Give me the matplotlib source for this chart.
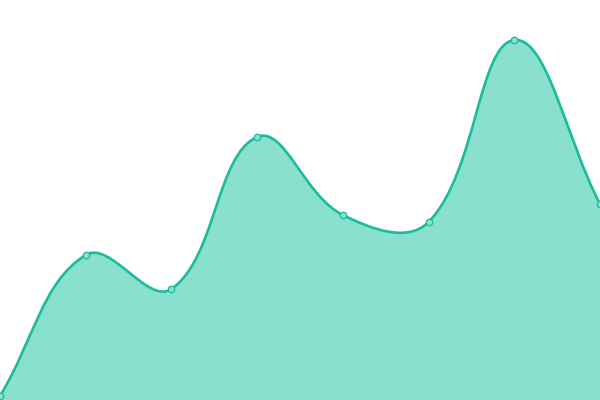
import numpy as np
import matplotlib
matplotlib.use('Agg')
import matplotlib.pyplot as plt
from matplotlib.path import Path
from matplotlib.patches import PathPatch

# values (y axis 0..400)
labels = ['A', 'B', 'C', 'D', 'E', 'F', 'G', 'H']
values = [4, 145, 111, 263, 185, 178, 360, 196]

line_color = '#1abc9c'
fill_color = '#8ae0cf'
tension = 0.4

fig = plt.figure(figsize=(6, 4), dpi=100)
ax = fig.add_axes([0, 0, 1, 1])
x = np.arange(len(values))
ax.set_xlim(0, len(values) - 1)
ax.set_ylim(0, 400)
ax.axis('off')

# spline like chart.js, worked out in pixel space
pts = ax.transData.transform(np.column_stack([x, values]))
n = len(pts)
ctrl_prev = np.zeros_like(pts)
ctrl_next = np.zeros_like(pts)
for i in range(n):
    p0 = pts[max(i - 1, 0)]
    p1 = pts[i]
    p2 = pts[min(i + 1, n - 1)]
    d01 = np.hypot(*(p1 - p0))
    d12 = np.hypot(*(p2 - p1))
    tot = d01 + d12
    s01 = d01 / tot if tot else 0
    s12 = d12 / tot if tot else 0
    ctrl_prev[i] = p1 - tension * s01 * (p2 - p0)
    ctrl_next[i] = p1 + tension * s12 * (p2 - p0)

w, h = fig.get_size_inches() * fig.dpi
ctrl_prev[:, 0] = np.clip(ctrl_prev[:, 0], 0, w)
ctrl_prev[:, 1] = np.clip(ctrl_prev[:, 1], 0, h)
ctrl_next[:, 0] = np.clip(ctrl_next[:, 0], 0, w)
ctrl_next[:, 1] = np.clip(ctrl_next[:, 1], 0, h)

verts = [pts[0]]
codes = [Path.MOVETO]
for i in range(1, n):
    verts += [ctrl_next[i - 1], ctrl_prev[i], pts[i]]
    codes += [Path.CURVE4] * 3

inv = ax.transData.inverted()
curve = inv.transform(np.array(verts))

fill_verts = np.vstack([curve, [[x[-1], 0], [x[0], 0], curve[0]]])
fill_codes = codes + [Path.LINETO, Path.LINETO, Path.CLOSEPOLY]
ax.add_patch(PathPatch(Path(fill_verts, fill_codes), facecolor=fill_color,
                       edgecolor='none', zorder=1))
ax.add_patch(PathPatch(Path(curve, codes), facecolor='none',
                       edgecolor=line_color, linewidth=1.9, zorder=2))

ax.scatter(x, values, s=22, facecolor=fill_color, edgecolor=line_color,
           linewidth=0.9, zorder=3)

fig.savefig('out.png', dpi=100)
